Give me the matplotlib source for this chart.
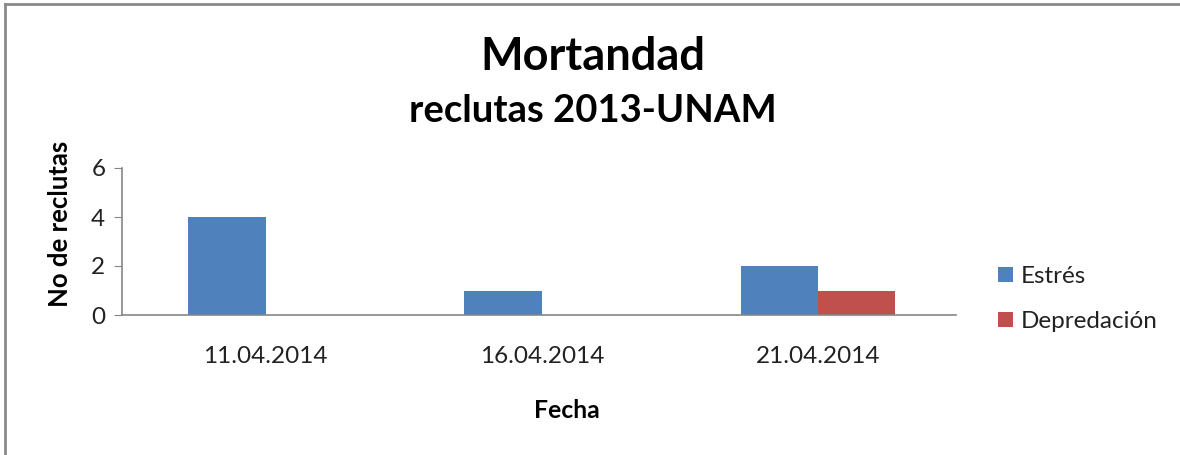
import matplotlib
matplotlib.use("Agg")
import matplotlib.pyplot as plt
import numpy as np
from matplotlib.lines import Line2D

categories = ["11.04.2014", "16.04.2014", "21.04.2014"]
estres = [4, 1, 2]
depredacion = [0, 0, 1]
series_names = ["Estrés", "Depredación"]
yticks = [0, 2, 4, 6]

plt.rcParams['font.family'] = ['Lato', 'DejaVu Sans']

fig = plt.figure(figsize=(11.8, 4.55), dpi=100)
ax = fig.add_axes([122/1180, 1 - 315/455, (956-122)/1180, (315-168)/455])

x = np.arange(len(categories))
w = 0.28
b1 = ax.bar(x - w/2, estres, width=w, color="#4F81BD", label=series_names[0])
b2 = ax.bar(x + w/2, depredacion, width=w, color="#C0504D", label=series_names[1])

ax.set_xlim(-0.52, len(categories) - 0.5)
ax.set_ylim(0, 6)
ax.set_yticks(yticks)
ax.set_xticks(x)
ax.set_xticklabels(categories)
for s in ["top", "right"]:
    ax.spines[s].set_visible(False)
for s in ["left", "bottom"]:
    ax.spines[s].set_color("#868686")
    ax.spines[s].set_linewidth(1.2)
ax.tick_params(axis="y", length=6, color="#868686", labelsize=17.5, labelcolor="#222222", pad=6)
ax.tick_params(axis="x", length=0, labelsize=17.5, labelcolor="#222222", pad=22)

fig.text(60/1180, 1 - 224/455, "No de reclutas", rotation=90, ha="center", va="center",
         fontsize=18.5, fontweight="bold", color="#000000")
fig.text(567/1180, 1 - 410/455, "Fecha", ha="center", va="center",
         fontsize=17.8, fontweight="bold", color="#000000")

fig.text(593/1180, 1 - 57/455, "Mortandad", ha="center", va="center",
         fontsize=32.5, fontweight="bold", color="#000000")
fig.text(593/1180, 1 - 111/455, "reclutas 2013-UNAM", ha="center", va="center",
         fontsize=27.5, fontweight="bold", color="#000000")

leg = fig.legend(handles=[b1, b2], labels=series_names, loc="center left",
                 bbox_to_anchor=(981/1180, 1 - 299/455), frameon=False,
                 fontsize=17.5, handlelength=0.6, handleheight=0.6, handletextpad=0.35,
                 labelspacing=1.0, labelcolor="#222222", borderpad=0.2)

# outer border (top and left visible)
fig.add_artist(Line2D([5/1180, 5/1180], [0, 1 - 4/455], transform=fig.transFigure,
                      color="#8a8a8a", linewidth=2))
fig.add_artist(Line2D([5/1180, 1], [1 - 4/455, 1 - 4/455], transform=fig.transFigure,
                      color="#8a8a8a", linewidth=2))

fig.savefig("out.png", dpi=100)
